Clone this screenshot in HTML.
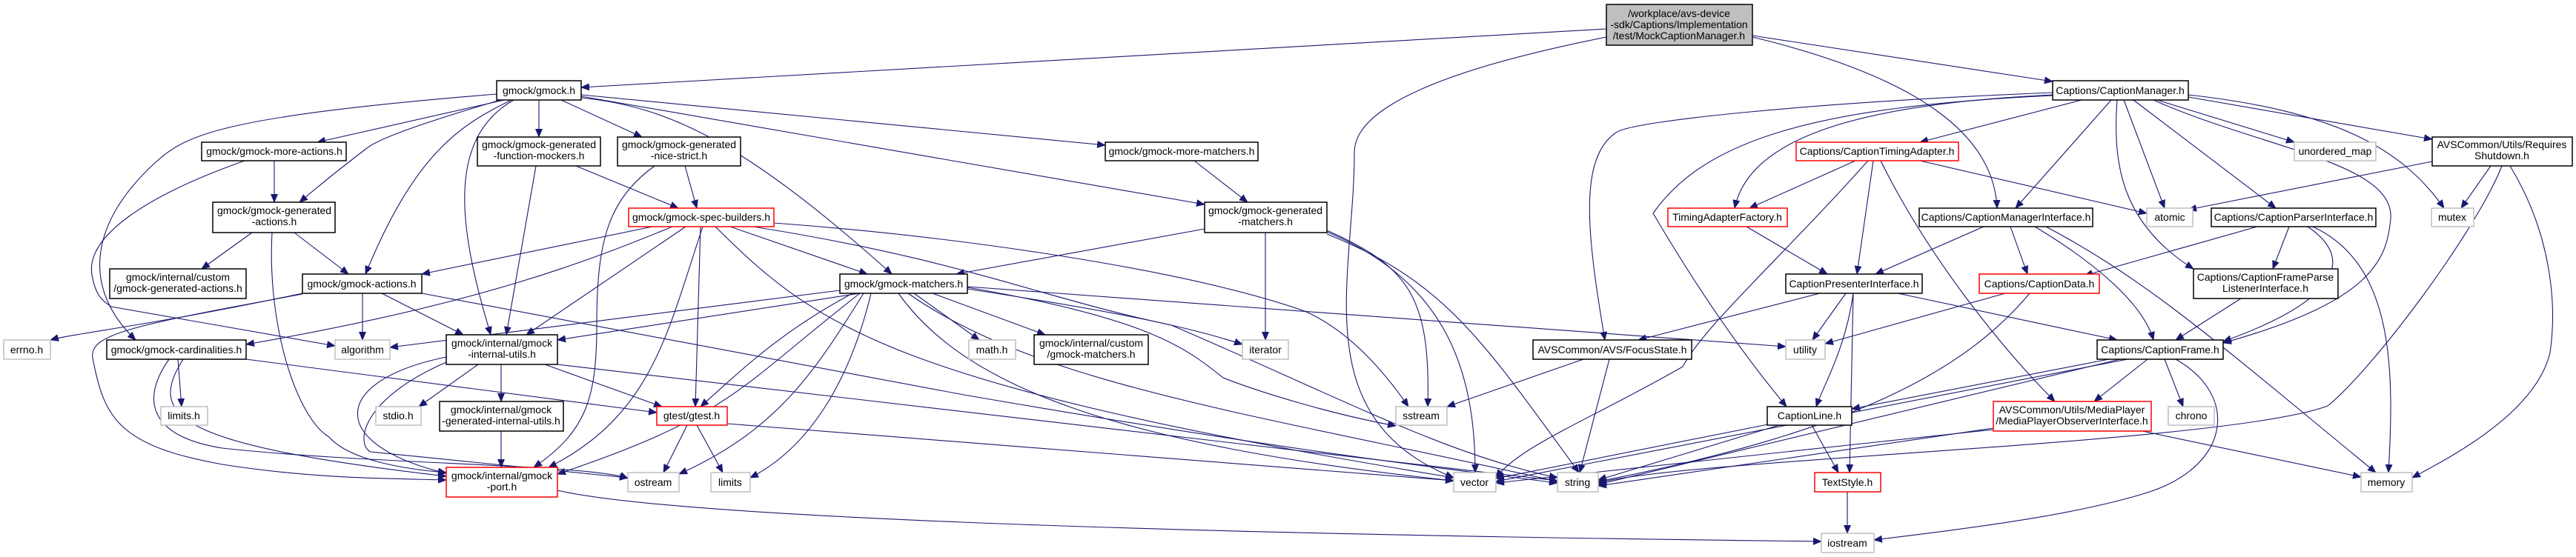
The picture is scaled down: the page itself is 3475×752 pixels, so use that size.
<!DOCTYPE html>
<html><head><meta charset="utf-8"><style>
html,body{margin:0;padding:0;background:#fff;}
svg{display:block}
text{font-family:"Liberation Sans",sans-serif;font-size:14px;fill:#000;text-anchor:middle;}
.n{fill:#fff;stroke:#000;stroke-width:1.5}
.g{fill:#fff;stroke:#bfbfbf;stroke-width:1.5}
.r{fill:#fff;stroke:#f00;stroke-width:1.5}
path{fill:none;stroke:#191970;stroke-width:1.1;marker-end:url(#a)}
</style></head><body>
<svg width="3475" height="752" viewBox="0 0 3475 752" xmlns="http://www.w3.org/2000/svg">
<defs><marker id="a" markerUnits="userSpaceOnUse" markerWidth="12" markerHeight="10" refX="11" refY="5" orient="auto"><polygon points="0,0 12,5 0,10" fill="#191970" stroke="none"/></marker></defs>
<g>
<path d="M2167,39 L784,118"/>
<path d="M2167,50 C1850,113 1827,176 1827,207 C1827,376 1760,564 1961,645"/>
<path d="M2364,48 L2769,110"/>
<path d="M2364,50 C2600,107 2690,188 2694,281"/>
<path d="M680,135 L428,192"/>
<path d="M727,135 L727,185"/>
<path d="M757,135 L866,185"/>
<path d="M784,128 L1491,196"/>
<path d="M784,130 L1625,276"/>
<path d="M675,135 C560,169 510,188 495,200 C470,219 430,251 404,273"/>
<path d="M690,135 C620,169 560,207 493,370"/>
<path d="M693,135 C600,188 620,313 662,452"/>
<path d="M670,127 C300,157 250,182 210,219 C120,301 110,389 183,459"/>
<path d="M784,132 C900,144 1000,188 1203,370"/>
<path d="M330,217 C200,263 110,320 125,376 C130,401 140,407 150,414 L452,467"/>
<path d="M370,217 L370,273"/>
<path d="M723,224 L683,452"/>
<path d="M777,224 L915,281"/>
<path d="M924,224 L940,281"/>
<path d="M883,224 C820,270 805,326 805,439 C805,539 790,583 720,631"/>
<path d="M340,314 L272,363"/>
<path d="M397,314 L470,370"/>
<path d="M367,314 C360,439 400,564 444,590 C470,620 540,633 602,638"/>
<path d="M408,396 C200,440 100,450 68,459"/>
<path d="M489,396 L489,459"/>
<path d="M515,396 L625,452"/>
<path d="M569,396 L1300,533 C1700,602 1900,627 2101,652"/>
<path d="M408,397 C180,439 120,451 125,483 C140,564 160,602 300,627 C420,646 520,646 602,648"/>
<path d="M240,485 L245,549"/>
<path d="M332,485 L886,557"/>
<path d="M247,485 C200,560 230,600 602,643"/>
<path d="M228,485 C190,539 200,589 300,605 C500,627 800,627 847,646"/>
<path d="M645,492 L565,549"/>
<path d="M676,492 L676,542"/>
<path d="M735,492 L893,549"/>
<path d="M602,482 C445,514 440,600 602,639"/>
<path d="M602,489 C485,540 480,600 500,610 L847,645"/>
<path d="M752,492 L2101,649"/>
<path d="M676,582 L676,631"/>
<path d="M927,574 L895,638"/>
<path d="M940,574 L975,638"/>
<path d="M981,572 L1961,649"/>
<path d="M752,662 C900,696 1500,720 2457,731"/>
<path d="M880,306 L569,370"/>
<path d="M907,306 C800,350 650,410 332,465"/>
<path d="M925,306 L710,452"/>
<path d="M945,306 L938,549"/>
<path d="M948,306 C900,450 880,560 740,631"/>
<path d="M985,306 L1170,370"/>
<path d="M965,306 C1100,440 1200,520 1961,645"/>
<path d="M1044,301 C1300,320 1600,364 1760,420 C1830,451 1880,520 1900,549"/>
<path d="M1016,306 C1300,351 1400,401 1580,439 C1800,533 1950,614 2101,645"/>
<path d="M1133,392 L526,469"/>
<path d="M1160,396 L752,459"/>
<path d="M1150,396 C1050,450 1000,500 945,549"/>
<path d="M1160,396 C1000,520 990,560 752,640"/>
<path d="M1165,396 C1100,500 1050,580 916,640"/>
<path d="M1175,396 C1150,500 1100,600 1012,645"/>
<path d="M1233,396 L1321,459"/>
<path d="M1258,396 L1410,452"/>
<path d="M1305,390 C1500,420 1600,440 1676,465"/>
<path d="M1305,388 C1550,430 1600,470 1650,510 C1700,530 1800,560 1883,575"/>
<path d="M1305,387 L2409,468"/>
<path d="M1212,396 C1300,520 1500,600 1961,649"/>
<path d="M1225,396 C1400,520 1700,560 2101,650"/>
<path d="M1625,309 L1290,370"/>
<path d="M1707,314 L1707,459"/>
<path d="M1790,311 C1900,360 1930,400 1926,549"/>
<path d="M1790,313 C1950,380 1990,500 1990,638"/>
<path d="M1790,316 C1950,380 2000,460 2130,638"/>
<path d="M1611,217 L1683,273"/>
<path d="M2136,485 L1952,549"/>
<path d="M2171,485 L2131,638"/>
<path d="M2808,135 L2590,192"/>
<path d="M2769,128 C2500,141 2360,188 2340,281"/>
<path d="M2769,125 C2450,138 2200,163 2180,179 C2130,213 2140,313 2165,459"/>
<path d="M2769,129 C2450,144 2300,188 2230,288 C2300,407 2360,489 2410,549"/>
<path d="M2848,135 L2719,281"/>
<path d="M2865,135 L2920,281"/>
<path d="M2878,135 L3070,281"/>
<path d="M2856,135 C2850,219 2860,301 2959,363"/>
<path d="M2905,135 C3050,200 3230,219 3225,295 C3220,351 3200,407 2999,463"/>
<path d="M2910,135 L3095,192"/>
<path d="M2952,131 L3281,188"/>
<path d="M2952,128 C3150,150 3240,200 3297,281"/>
<path d="M2503,217 L2360,281"/>
<path d="M2527,217 L2505,370"/>
<path d="M2590,217 L2896,288"/>
<path d="M2537,217 C2600,345 2700,470 2772,542"/>
<path d="M2520,217 C2400,351 2300,439 2270,495 C2150,564 2050,602 2018,645"/>
<path d="M2356,306 L2465,370"/>
<path d="M2676,306 L2530,370"/>
<path d="M2712,306 L2735,370"/>
<path d="M2745,306 C2820,351 2890,407 2905,459"/>
<path d="M2760,306 C2900,380 3000,470 3205,638"/>
<path d="M3281,218 L2952,283"/>
<path d="M3360,224 L3320,281"/>
<path d="M3386,224 C3440,313 3450,407 3440,476 C3420,560 3300,620 3254,645"/>
<path d="M3375,224 C3340,313 3200,500 3140,548 C3000,600 2275,619 2156,652"/>
<path d="M3045,306 L2812,372"/>
<path d="M3088,306 L3066,363"/>
<path d="M3113,306 C3180,351 3150,407 2999,461"/>
<path d="M3120,306 C3230,357 3230,500 3222,638"/>
<path d="M2455,396 L2210,459"/>
<path d="M2490,396 L2445,459"/>
<path d="M2500,396 C2490,470 2460,520 2450,549"/>
<path d="M2500,396 L2495,638"/>
<path d="M2560,396 L2856,459"/>
<path d="M2705,396 L2462,464"/>
<path d="M2738,396 C2650,501 2500,583 2156,650"/>
<path d="M3023,403 L2935,459"/>
<path d="M2845,485 L2498,552"/>
<path d="M2897,485 L2825,542"/>
<path d="M2920,485 L2945,549"/>
<path d="M2935,485 C3020,533 3010,627 2900,664 C2800,696 2650,714 2528,729"/>
<path d="M2870,485 L2018,650"/>
<path d="M2860,485 L2156,654"/>
<path d="M2444,574 L2480,638"/>
<path d="M2390,572 L2018,646"/>
<path d="M2400,574 L2156,648"/>
<path d="M2890,582 L3185,644"/>
<path d="M2689,580 L2018,652"/>
<path d="M2689,578 L2156,656"/>
<path d="M2492,664 L2492,720"/>
</g>
<g>
<rect x="2167" y="6" width="197" height="55" fill="#bfbfbf" stroke="#000" stroke-width="1.5"/>
<text x="2265" y="23">/workplace/avs-device</text><text x="2265" y="38">-sdk/Captions/Implementation</text><text x="2265" y="53">/test/MockCaptionManager.h</text>

<rect class="n" x="670" y="109" width="114" height="26"/><text x="727" y="127">gmock/gmock.h</text>
<rect class="n" x="272" y="192" width="195" height="25"/><text x="370" y="209">gmock/gmock-more-actions.h</text>
<rect class="n" x="644" y="185" width="166" height="39"/><text x="727" y="200">gmock/gmock-generated</text><text x="727" y="215">-function-mockers.h</text>
<rect class="n" x="833" y="185" width="166" height="39"/><text x="916" y="200">gmock/gmock-generated</text><text x="916" y="215">-nice-strict.h</text>
<rect class="n" x="287" y="273" width="165" height="41"/><text x="370" y="289">gmock/gmock-generated</text><text x="370" y="304">-actions.h</text>
<rect class="r" x="848" y="281" width="196" height="25"/><text x="946" y="298">gmock/gmock-spec-builders.h</text>
<rect class="n" x="148" y="363" width="184" height="40"/><text x="240" y="379">gmock/internal/custom</text><text x="240" y="394">/gmock-generated-actions.h</text>
<rect class="n" x="408" y="370" width="161" height="26"/><text x="488" y="388">gmock/gmock-actions.h</text>
<rect class="g" x="5" y="459" width="63" height="26"/><text x="36" y="477">errno.h</text>
<rect class="n" x="144" y="459" width="188" height="26"/><text x="238" y="477">gmock/gmock-cardinalities.h</text>
<rect class="g" x="452" y="459" width="74" height="26"/><text x="489" y="477">algorithm</text>
<rect class="n" x="602" y="452" width="150" height="40"/><text x="677" y="468">gmock/internal/gmock</text><text x="677" y="483">-internal-utils.h</text>
<rect class="g" x="217" y="549" width="63" height="25"/><text x="248" y="566">limits.h</text>
<rect class="g" x="507" y="549" width="61" height="25"/><text x="537" y="566">stdio.h</text>
<rect class="n" x="593" y="542" width="167" height="40"/><text x="676" y="558">gmock/internal/gmock</text><text x="676" y="573">-generated-internal-utils.h</text>
<rect class="r" x="886" y="549" width="95" height="25"/><text x="933" y="566">gtest/gtest.h</text>
<rect class="r" x="602" y="631" width="150" height="40"/><text x="677" y="647">gmock/internal/gmock</text><text x="677" y="662">-port.h</text>
<rect class="g" x="847" y="638" width="69" height="26"/><text x="881" y="656">ostream</text>
<rect class="g" x="959" y="638" width="53" height="26"/><text x="985" y="656">limits</text>
<rect class="n" x="1491" y="192" width="206" height="25"/><text x="1594" y="209">gmock/gmock-more-matchers.h</text>
<rect class="n" x="1625" y="273" width="165" height="41"/><text x="1707" y="289">gmock/gmock-generated</text><text x="1707" y="304">-matchers.h</text>
<rect class="n" x="1133" y="370" width="172" height="26"/><text x="1219" y="388">gmock/gmock-matchers.h</text>
<rect class="g" x="1307" y="459" width="63" height="26"/><text x="1338" y="477">math.h</text>
<rect class="n" x="1395" y="452" width="154" height="40"/><text x="1472" y="468">gmock/internal/custom</text><text x="1472" y="483">/gmock-matchers.h</text>
<rect class="g" x="1676" y="459" width="62" height="26"/><text x="1707" y="477">iterator</text>
<rect class="n" x="2068" y="459" width="214" height="26"/><text x="2175" y="477">AVSCommon/AVS/FocusState.h</text>
<rect class="g" x="1883" y="549" width="69" height="25"/><text x="1917" y="566">sstream</text>
<rect class="g" x="1961" y="638" width="57" height="26"/><text x="1989" y="656">vector</text>
<rect class="g" x="2101" y="638" width="55" height="26"/><text x="2128" y="656">string</text>
<rect class="n" x="2769" y="109" width="183" height="26"/><text x="2860" y="127">Captions/CaptionManager.h</text>
<rect class="r" x="2423" y="192" width="219" height="25"/><text x="2532" y="209">Captions/CaptionTimingAdapter.h</text>
<rect class="g" x="3095" y="192" width="110" height="25"/><text x="3150" y="209">unordered_map</text>
<rect class="n" x="3281" y="185" width="189" height="39"/><text x="3375" y="200">AVSCommon/Utils/Requires</text><text x="3375" y="215">Shutdown.h</text>
<rect class="r" x="2250" y="281" width="161" height="25"/><text x="2330" y="298">TimingAdapterFactory.h</text>
<rect class="n" x="2589" y="281" width="234" height="25"/><text x="2706" y="298">Captions/CaptionManagerInterface.h</text>
<rect class="g" x="2896" y="281" width="62" height="25"/><text x="2927" y="298">atomic</text>
<rect class="n" x="2983" y="281" width="222" height="25"/><text x="3094" y="298">Captions/CaptionParserInterface.h</text>
<rect class="g" x="3280" y="281" width="57" height="25"/><text x="3308" y="298">mutex</text>
<rect class="n" x="2409" y="370" width="184" height="26"/><text x="2501" y="388">CaptionPresenterInterface.h</text>
<rect class="r" x="2670" y="370" width="162" height="26"/><text x="2751" y="388">Captions/CaptionData.h</text>
<rect class="n" x="2959" y="363" width="195" height="40"/><text x="3056" y="379">Captions/CaptionFrameParse</text><text x="3056" y="394">ListenerInterface.h</text>
<rect class="g" x="2409" y="459" width="53" height="26"/><text x="2435" y="477">utility</text>
<rect class="n" x="2829" y="459" width="170" height="26"/><text x="2914" y="477">Captions/CaptionFrame.h</text>
<rect class="n" x="2384" y="549" width="114" height="25"/><text x="2441" y="566">CaptionLine.h</text>
<rect class="r" x="2689" y="542" width="213" height="40"/><text x="2795" y="558">AVSCommon/Utils/MediaPlayer</text><text x="2795" y="573">/MediaPlayerObserverInterface.h</text>
<rect class="g" x="2925" y="549" width="62" height="25"/><text x="2956" y="566">chrono</text>
<rect class="r" x="2448" y="638" width="89" height="26"/><text x="2492" y="656">TextStyle.h</text>
<rect class="g" x="3185" y="638" width="69" height="26"/><text x="3219" y="656">memory</text>
<rect class="g" x="2457" y="720" width="71" height="26"/><text x="2492" y="738">iostream</text>
</g>
</svg>
</body></html>
